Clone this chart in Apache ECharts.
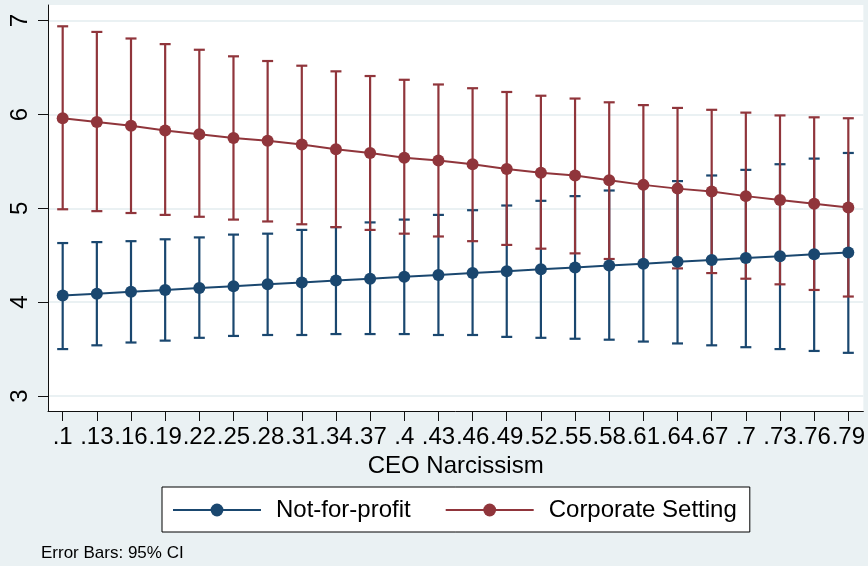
<!DOCTYPE html>
<html>
<head>
<meta charset="utf-8">
<script src="https://cdn.jsdelivr.net/npm/echarts@6/dist/echarts.min.js"></script>
<style>
  html, body { margin: 0; padding: 0; background: #eaf1f3; }
  #chart { width: 868px; height: 566px; }
</style>
</head>
<body>
<div id="chart"></div>
<script>
// CEO narcissism levels (x categories)
const categories = ['.1', '.13', '.16', '.19', '.22', '.25', '.28', '.31', '.34', '.37', '.4', '.43',
                    '.46', '.49', '.52', '.55', '.58', '.61', '.64', '.67', '.7', '.73', '.76', '.79'];

// Not-for-profit: predicted margin and 95% CI bounds
const nfpMean  = [4.07, 4.09, 4.11, 4.13, 4.15, 4.17, 4.19, 4.21, 4.23, 4.25, 4.27, 4.29,
                  4.31, 4.33, 4.35, 4.37, 4.39, 4.41, 4.43, 4.45, 4.47, 4.49, 4.51, 4.53];
const nfpUpper = [4.63, 4.64, 4.65, 4.67, 4.69, 4.72, 4.73, 4.77, 4.80, 4.85, 4.88, 4.93,
                  4.98, 5.03, 5.08, 5.13, 5.19, 5.24, 5.29, 5.35, 5.41, 5.47, 5.53, 5.59];
const nfpLower = [3.50, 3.54, 3.57, 3.59, 3.62, 3.64, 3.65, 3.65, 3.66, 3.66, 3.66, 3.65,
                  3.65, 3.63, 3.62, 3.61, 3.60, 3.58, 3.56, 3.54, 3.52, 3.50, 3.48, 3.46];

// Corporate setting: predicted margin and 95% CI bounds
const corpMean  = [5.96, 5.92, 5.88, 5.83, 5.79, 5.75, 5.72, 5.68, 5.63, 5.59, 5.54, 5.51,
                   5.47, 5.42, 5.38, 5.35, 5.30, 5.25, 5.21, 5.18, 5.13, 5.09, 5.05, 5.01];
const corpUpper = [6.94, 6.88, 6.81, 6.75, 6.69, 6.62, 6.57, 6.52, 6.46, 6.41, 6.37, 6.32,
                   6.28, 6.24, 6.20, 6.17, 6.13, 6.10, 6.07, 6.05, 6.02, 5.99, 5.97, 5.96];
const corpLower = [4.99, 4.97, 4.95, 4.93, 4.91, 4.88, 4.86, 4.83, 4.80, 4.77, 4.73, 4.70,
                   4.65, 4.61, 4.57, 4.52, 4.46, 4.41, 4.36, 4.31, 4.25, 4.19, 4.13, 4.06];

const yTicks = [3, 4, 5, 6, 7];

const NAVY = '#1a476f';
const MAROON = '#90353b';
const BG = '#eaf1f3';
const FONT = '"Liberation Sans", Arial, Helvetica, sans-serif';

const xIndex = categories.map((_, i) => i);
const pairs = (vals) => vals.map((v, i) => [i, v]);
const ciData = (lo, hi) => lo.map((v, i) => [i, v, hi[i]]);

// Capped vertical spike for each confidence interval
function capRenderer(color) {
  return function (params, api) {
    const lo = api.coord([api.value(0), api.value(1)]);
    const hi = api.coord([api.value(0), api.value(2)]);
    const half = 5.5;
    const style = { stroke: color, lineWidth: 2.2 };
    return {
      type: 'group',
      children: [
        { type: 'line', shape: { x1: lo[0], y1: lo[1], x2: hi[0], y2: hi[1] }, style },
        { type: 'line', shape: { x1: lo[0] - half, y1: lo[1], x2: lo[0] + half, y2: lo[1] }, style },
        { type: 'line', shape: { x1: hi[0] - half, y1: hi[1], x2: hi[0] + half, y2: hi[1] }, style }
      ]
    };
  };
}

const chart = echarts.init(document.getElementById('chart'), null, { renderer: 'canvas' });

chart.setOption({
  backgroundColor: BG,
  animation: false,
  textStyle: { fontFamily: FONT },
  title: {
    text: 'Error Bars: 95% CI',
    left: 41,
    top: 545,
    padding: 0,
    textStyle: { fontFamily: FONT, fontSize: 17, fontWeight: 'normal', color: '#000' }
  },
  grid: {
    left: 48, right: 3, top: 5, bottom: 155,
    show: true, backgroundColor: '#ffffff', borderWidth: 0
  },
  legend: {
    data: ['Not-for-profit', 'Corporate Setting'],
    left: 162, top: 487,
    padding: [11, 13, 10, 10],
    itemGap: 34,
    itemWidth: 88, itemHeight: 16,
    backgroundColor: '#ffffff',
    borderColor: '#000000', borderWidth: 1, borderRadius: 0,
    textStyle: { fontFamily: FONT, fontSize: 24, color: '#000', padding: [0, 0, 0, 10] }
  },
  xAxis: {
    type: 'value',
    min: -0.43, max: 23.44,
    name: 'CEO Narcissism',
    nameLocation: 'middle',
    nameGap: 38,
    nameTextStyle: { fontFamily: FONT, fontSize: 24, color: '#000' },
    axisLine: { show: true, onZero: false, lineStyle: { color: '#111', width: 1 } },
    axisTick: { show: true, length: 10, customValues: xIndex, lineStyle: { color: '#111' } },
    axisLabel: {
      customValues: xIndex,
      formatter: (v) => categories[Math.round(v)],
      fontFamily: FONT, fontSize: 24, color: '#000', margin: 14
    },
    splitLine: { show: false }
  },
  yAxis: {
    type: 'value',
    min: 2.84, max: 7.167,
    axisLine: { show: true, onZero: false, lineStyle: { color: '#111', width: 1 } },
    axisTick: { show: true, length: 10, customValues: yTicks, lineStyle: { color: '#111' } },
    axisLabel: {
      customValues: yTicks,
      rotate: 90,
      fontFamily: FONT, fontSize: 24, color: '#000', margin: 16
    },
    splitLine: { show: true, lineStyle: { color: BG, width: 2 } }
  },
  series: [
    {
      name: 'Not-for-profit CI', type: 'custom', z: 2,
      renderItem: capRenderer(NAVY),
      data: ciData(nfpLower, nfpUpper),
      encode: { x: 0, y: [1, 2] }
    },
    {
      name: 'Corporate Setting CI', type: 'custom', z: 3,
      renderItem: capRenderer(MAROON),
      data: ciData(corpLower, corpUpper),
      encode: { x: 0, y: [1, 2] }
    },
    {
      name: 'Not-for-profit', type: 'line', z: 4,
      data: pairs(nfpMean),
      symbol: 'circle', symbolSize: 12,
      itemStyle: { color: NAVY },
      lineStyle: { color: NAVY, width: 2 }
    },
    {
      name: 'Corporate Setting', type: 'line', z: 5,
      data: pairs(corpMean),
      symbol: 'circle', symbolSize: 12,
      itemStyle: { color: MAROON },
      lineStyle: { color: MAROON, width: 2 }
    }
  ]
});
</script>
</body>
</html>
